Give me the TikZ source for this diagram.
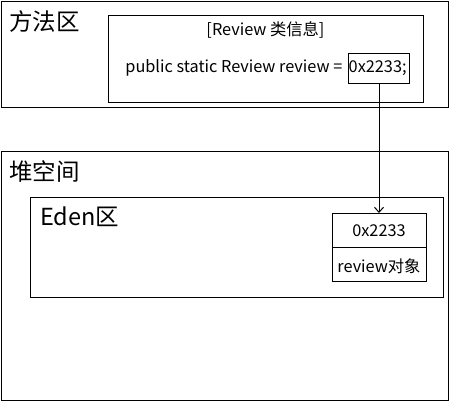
\documentclass[tikz,border=0pt]{standalone}
\usepackage{fontspec}
\setmainfont{Noto Sans CJK SC}
\usetikzlibrary{arrows.meta}
\begin{document}
\begin{tikzpicture}[x=1pt,y=-1pt,
  box/.style={draw, line width=1pt, inner sep=0pt, anchor=north west},
  big/.style={font=\fontsize{23.5}{26}\selectfont, inner sep=0pt},
  small/.style={font=\fontsize{16.3}{18}\selectfont, inner sep=0pt}]
\useasboundingbox (0,0) rectangle (450,403);
% method area
\node[box, minimum width=447pt, minimum height=106pt] (method) at (1,1) {};
\node[big, anchor=west] (mlabel) at (9,22) {方法区};
\node[box, minimum width=315pt, minimum height=87pt] (cls) at (108,15) {};
\node[small] (clsname) at (265.5,30) {[Review 类信息]};
\node[box, minimum width=61pt, minimum height=30pt] (ptr) at (348,53) {};
\node[small, anchor=west] (ptrtxt) at (348.5,68) {0x2233;};
\node[small, anchor=east] (decl) at (342.5,68) {public static Review review =};
% heap
\node[box, minimum width=447pt, minimum height=249pt] (heap) at (1,151) {};
\node[big, anchor=west] (hlabel) at (9,172) {堆空间};
\node[box, minimum width=413pt, minimum height=100pt] (eden) at (30,197) {};
\node[big, anchor=west] (elabel) at (40,217) {Eden区};
\node[box, minimum width=94pt, minimum height=68pt] (obj) at (332,213) {};
\draw[line width=1pt] (obj.west |- 0,248) coordinate (dl) -- (obj.east |- 0,248) coordinate (dr);
\node[small] (addr) at (379,231) {0x2233};
\node[small] (oname) at (379,266) {review对象};
% pointer
\draw[line width=1pt, -{Straight Barb[length=5pt,width=9pt]}] (ptr.south) -- (ptr.south |- obj.north);
\end{tikzpicture}
\end{document}
